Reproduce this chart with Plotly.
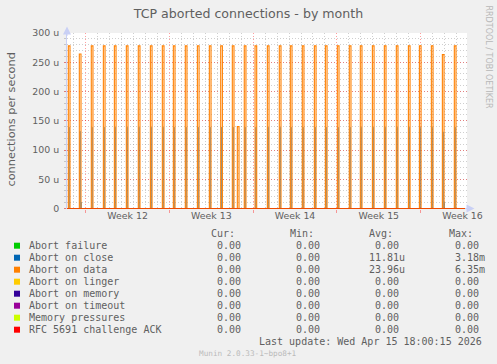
import plotly.graph_objects as go

# ---------------- data ----------------
title_text = "TCP aborted connections - by month"
y_title = "connections per second"
series_names = ["Abort failure", "Abort on close", "Abort on data", "Abort on linger",
                "Abort on memory", "Abort on timeout", "Memory pressures",
                "RFC 5691 challenge ACK"]
series_colors = ["#00CC00", "#0066B3", "#FF8000", "#FFCC00",
                 "#330099", "#990099", "#CCFF00", "#FF0000"]

# x axis in days from the left edge of the graph
x_end_days = 33.44
week_grid_days = [1.564, 8.564, 15.564, 22.564, 29.564]
week_label_days = [5.064, 12.064, 19.064, 26.064, 33.064]
week_labels = ["Week 12", "Week 13", "Week 14", "Week 15", "Week 16"]

# Abort on data spikes (micro connections per second)
data_spike_days = [0.11, 1.03, 2.03, 3.04, 3.96, 4.96, 5.96, 6.97, 7.97, 8.89,
                   9.89, 10.90, 11.90, 12.85, 13.82, 14.24, 14.82, 15.72, 16.75,
                   17.75, 18.67, 19.67, 20.68, 21.60, 22.60, 23.60, 24.52, 25.53,
                   26.53, 27.53, 28.54, 29.46, 30.46, 31.38, 32.38]
data_spike_values = [278, 264, 278, 278, 278, 278, 278, 278, 278, 278,
                     278, 278, 278, 278, 278, 140, 278, 278, 278,
                     278, 278, 278, 278, 278, 278, 278, 278, 278,
                     278, 278, 278, 278, 278, 263, 278]
# Abort on close spikes (micro connections per second)
close_spike_days = [0.18, 1.10, 1.19, 2.10, 3.11, 4.03, 5.03, 6.03, 7.04, 8.04, 8.96,
                    9.96, 10.97, 11.97, 12.92, 13.89, 14.89, 15.79, 16.82,
                    17.82, 18.74, 19.74, 20.75, 21.67, 22.67, 23.67, 24.59, 25.60,
                    26.60, 27.60, 28.61, 29.53, 30.53, 31.45, 31.56, 32.45]
close_spike_values = [139, 132, 11, 139, 139, 139, 139, 139, 139, 139, 139,
                      139, 139, 139, 139, 139, 139, 139, 139,
                      139, 139, 139, 139, 139, 139, 139, 139, 139,
                      139, 139, 139, 139, 139, 131, 11, 139]
spike_width_days = 0.14

y_tick_values = [0, 50, 100, 150, 200, 250, 300]
y_tick_labels = ["0", "50 u", "100 u", "150 u", "200 u", "250 u", "300 u"]

cur_vals = [0, 0, 0, 0, 0, 0, 0, 0]
min_vals = [0, 0, 0, 0, 0, 0, 0, 0]
avg_vals = [0, 11.81e-6, 23.96e-6, 0, 0, 0, 0, 0]
max_vals = [0, 3.18e-3, 6.35e-3, 0, 0, 0, 0, 0]
stat_headers = ["Cur:", "Min:", "Avg:", "Max:"]
last_update = "Last update: Wed Apr 15 18:00:15 2026"
munin_version = "Munin 2.0.33-1~bpo8+1"
side_text = "RRDTOOL / TOBI OETIKER"

# ---------------- layout helpers ----------------
W, H = 497, 364
L, T, PW, PH = 67, 33, 400, 176


def px(x):
    return (x - L) / PW


def py(y):
    return (T + PH - y) / PH


def si(v):
    if v == 0:
        return "%6.2f" % 0
    if abs(v) >= 1e-3:
        return "%6.2f" % (v * 1e3) + "m"
    return "%6.2f" % (v * 1e6) + "u"


def spike_path(days, vals, width):
    xs, ys = [], []
    for d, v in zip(days, vals):
        xs += [d, d, d + width, d + width, None]
        ys += [0, v, v, 0, None]
    return xs, ys


TXT = "#5f5f5f"
MGRID = "rgba(255,0,0,0.38)"
GRID = "rgba(128,128,128,0.38)"
AXIS = "#C9D0F5"

fig = go.Figure()

for i, (name, col) in enumerate(zip(series_names, series_colors)):
    opacity = 1.0
    if i == 1:
        xs, ys = spike_path(close_spike_days, close_spike_values, 0.0)
        opacity = 0.65
    elif i == 2:
        xs, ys = spike_path(data_spike_days, data_spike_values, spike_width_days)
    else:
        xs, ys = [0, x_end_days], [0, 0]
    if i == len(series_names) - 1:
        opacity = 0.7
    fig.add_trace(go.Scatter(
        x=xs, y=ys, mode="lines", name=name, opacity=opacity, connectgaps=False,
        line=dict(color=col, width=1.1 if i == 2 else 1), hoverinfo="skip",
        showlegend=False,
        xaxis="x2" if i == len(series_names) - 1 else "x", yaxis="y"))

fig.update_layout(
    width=W, height=H, autosize=False,
    margin=dict(l=L, r=W - L - PW, t=T, b=H - T - PH, pad=0),
    paper_bgcolor="#F0F0F0", plot_bgcolor="#FFFFFF",
    font=dict(family="DejaVu Sans", color=TXT, size=9.4),
    title=dict(text=title_text, x=0.5, xanchor="center", xref="container",
               y=1 - 13.5 / H, yanchor="middle", yref="container",
               font=dict(family="DejaVu Sans", size=12.6, color=TXT)),
    xaxis=dict(range=[0, x_end_days], tickmode="array", tickvals=week_label_days,
               ticktext=week_labels, showgrid=False, zeroline=False, ticks="",
               showline=False, tickfont=dict(size=9.4, color=TXT)),
    xaxis2=dict(range=[0, x_end_days], overlaying="x", anchor="y", side="bottom",
                tickmode="linear", tick0=week_grid_days[0], dtick=7,
                showticklabels=False, showgrid=True, gridcolor=MGRID,
                griddash="1px,2px", gridwidth=1, zeroline=False,
                ticks="outside", ticklen=3, tickcolor=MGRID, showline=False,
                minor=dict(tick0=week_grid_days[0] - 1, dtick=1, showgrid=True,
                           gridcolor=GRID, griddash="1px,2px", ticks="")),
    yaxis=dict(range=[-0.85, 300], tickmode="array", tickvals=y_tick_values,
               ticktext=y_tick_labels, showgrid=True, gridcolor=MGRID,
               griddash="1px,2px", zeroline=False, showline=True, linecolor=AXIS,
               linewidth=1, ticks="outside", ticklen=2, tickcolor=MGRID,
               ticklabelstandoff=3,
               tickfont=dict(size=9.4, color=TXT),
               minor=dict(dtick=10, tick0=0, showgrid=True, gridcolor=GRID,
                          griddash="1px,2px", ticks="outside", ticklen=2,
                          tickcolor=GRID)),
)

ann = []
# axis arrows
ann.append(dict(xref="paper", yref="paper", x=px(67), y=py(26.5), ax=0, ay=11,
                text="", showarrow=True, arrowhead=2, arrowsize=1.6, arrowwidth=1,
                arrowcolor=AXIS))
ann.append(dict(xref="paper", yref="paper", x=px(474.5), y=py(208.5), ax=-11, ay=0,
                text="", showarrow=True, arrowhead=2, arrowsize=1.6, arrowwidth=1,
                arrowcolor=AXIS))
# y axis title
ann.append(dict(xref="paper", yref="paper", x=px(11), y=py(119.5), text=y_title,
                textangle=-90, showarrow=False, xanchor="center", yanchor="middle",
                font=dict(family="DejaVu Sans", size=11.3, color=TXT)))
# side text
ann.append(dict(xref="paper", yref="paper", x=px(488), y=py(56.5), text=side_text,
                textangle=90, showarrow=False, xanchor="center", yanchor="middle",
                font=dict(family="DejaVu Sans", size=8, color="#B8B8B8")))

MONO = "DejaVu Sans Mono"
col_starts = [203, 282.3, 361.3, 441.3]
for hdr, cx in zip(stat_headers, col_starts):
    ann.append(dict(xref="paper", yref="paper", x=px(cx + 6), y=py(233.3), text=hdr,
                    showarrow=False, xanchor="left", yanchor="middle",
                    font=dict(family=MONO, size=10, color=TXT)))

shapes = []
for i, name in enumerate(series_names):
    yc = 245.7 + 12 * i
    shapes.append(dict(type="rect", xref="paper", yref="paper",
                       x0=px(14), x1=px(20), y0=py(yc - 3), y1=py(yc + 3),
                       fillcolor=series_colors[i], line=dict(width=0)))
    ann.append(dict(xref="paper", yref="paper", x=px(26.7), y=py(yc), text=name,
                    showarrow=False, xanchor="left", yanchor="middle",
                    font=dict(family=MONO, size=10, color=TXT)))
    for vals, cx in zip([cur_vals, min_vals, avg_vals, max_vals], col_starts):
        ann.append(dict(xref="paper", yref="paper", x=px(cx), y=py(yc),
                        text=si(vals[i]).replace(" ", "\u00a0"),
                        showarrow=False, xanchor="left", yanchor="middle",
                        font=dict(family=MONO, size=10, color=TXT)))

ann.append(dict(xref="paper", yref="paper", x=px(483.7), y=py(341.7), text=last_update,
                showarrow=False, xanchor="right", yanchor="middle",
                font=dict(family=MONO, size=10, color=TXT)))
ann.append(dict(xref="paper", yref="paper", x=px(248), y=py(353.3), text=munin_version,
                showarrow=False, xanchor="center", yanchor="middle",
                font=dict(family=MONO, size=7.7, color="#BBBBBB")))

fig.update_layout(annotations=ann, shapes=shapes)
fig.write_html("out.html")
